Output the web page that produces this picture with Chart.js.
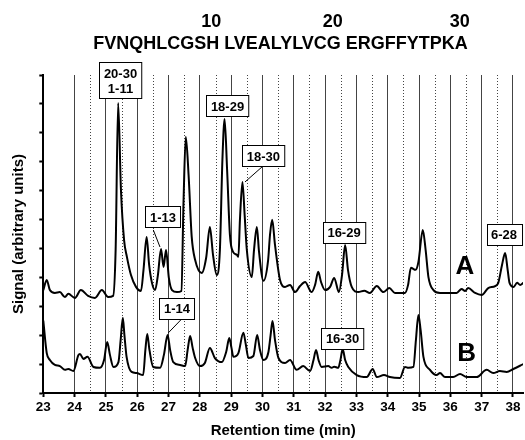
<!DOCTYPE html>
<html>
<head>
<meta charset="utf-8">
<script src="https://cdn.jsdelivr.net/npm/chart.js@4.4.1/dist/chart.umd.min.js"></script>
<style>
html,body{margin:0;padding:0;background:#fff;}
#wrap{width:525px;height:440px;}
</style>
</head>
<body>
<div id="wrap"><canvas id="c" width="525" height="440"></canvas></div>
<script>
// ---- data (retention time in min, signal in arbitrary units) ----
const sequence = "FVNQHLCGSH LVEALYLVCG ERGFFYTPKA";
const residueMarks = [10, 20, 30];
const xTickLabels = [23,24,25,26,27,28,29,30,31,32,33,34,35,36,37,38];

const traceA_t = [23.00,23.11,23.21,23.37,23.53,23.69,23.80,24.01,24.20,24.43,24.65,24.87,25.07,25.23,25.31,25.39,25.48,25.58,25.67,25.80,25.96,26.12,26.20,26.30,26.38,26.47,26.57,26.66,26.76,26.84,26.92,27.01,27.11,27.27,27.41,27.48,27.55,27.64,27.74,27.85,28.06,28.20,28.32,28.42,28.54,28.64,28.72,28.79,28.87,28.96,29.06,29.18,29.23,29.28,29.36,29.43,29.50,29.66,29.73,29.82,29.89,30.03,30.18,30.24,30.31,30.40,30.56,30.72,30.88,31.04,31.20,31.36,31.57,31.68,31.78,31.87,32.00,32.16,32.29,32.44,32.54,32.64,32.73,32.85,33.06,33.25,33.43,33.65,33.86,34.05,34.23,34.55,34.65,34.74,34.89,34.98,35.12,35.21,35.30,35.46,35.67,36.20,36.36,36.47,36.57,36.79,37.00,37.21,37.43,37.53,37.65,37.75,37.83,37.89,38.02,38.13,38.23,38.33];
const traceA_v = [3.56,3.91,3.56,3.46,3.49,3.32,3.43,3.29,3.56,3.36,3.29,3.56,3.32,3.36,4.95,10.03,7.02,5.29,4.71,4.08,3.67,3.53,4.26,5.40,4.43,3.81,3.56,4.08,4.98,4.36,4.95,3.98,3.56,3.49,3.53,6.68,8.86,7.54,5.40,4.60,4.15,4.67,5.74,4.78,4.08,4.95,8.06,9.48,7.72,5.47,4.88,4.78,4.71,5.99,7.30,6.16,4.95,4.01,4.95,5.74,4.88,3.88,4.60,5.47,5.99,5.12,3.91,3.67,3.74,3.49,3.70,3.84,3.49,3.74,4.19,3.84,3.56,3.67,3.98,3.49,4.08,5.12,4.26,3.67,3.49,3.54,3.46,3.70,3.49,3.63,3.46,3.46,3.74,4.33,4.26,4.53,5.64,4.95,4.01,3.56,3.46,3.46,3.60,3.53,3.63,3.46,3.39,3.63,3.70,3.81,4.43,4.84,4.26,3.81,3.67,3.81,3.74,3.81];

const traceB_t = [23.00,23.11,23.21,23.37,23.53,23.69,23.80,23.96,24.12,24.17,24.28,24.41,24.60,24.81,24.94,25.04,25.13,25.24,25.40,25.47,25.54,25.59,25.66,25.82,25.98,26.19,26.26,26.32,26.39,26.51,26.73,26.85,26.97,27.05,27.15,27.37,27.53,27.61,27.69,27.77,27.85,28.00,28.16,28.32,28.48,28.70,28.84,28.94,29.01,29.07,29.23,29.39,29.47,29.55,29.71,29.83,29.92,30.03,30.19,30.26,30.32,30.40,30.51,30.72,30.88,31.09,31.30,31.52,31.63,31.71,31.79,31.89,32.10,32.21,32.29,32.42,32.49,32.56,32.64,32.74,33.01,33.33,33.52,33.65,33.88,34.07,34.39,34.55,34.66,34.82,34.90,34.98,35.05,35.14,35.35,35.56,35.67,35.83,36.09,36.31,36.52,36.84,37.16,37.37,37.58,37.80,38.01,38.33];
const traceB_v = [2.50,1.38,1.14,0.97,0.93,0.80,0.83,0.76,1.31,1.35,1.18,1.25,0.90,0.87,1.14,1.76,1.31,0.90,1.07,1.83,2.60,2.01,1.25,0.73,0.69,0.62,1.49,2.04,1.49,0.90,0.87,1.31,2.01,1.49,1.07,0.97,0.93,1.49,1.97,1.56,1.21,0.93,1.04,1.56,1.21,1.07,1.42,1.90,1.56,1.25,1.38,2.08,1.66,1.21,1.28,2.01,1.49,1.14,1.42,2.01,2.49,1.83,1.21,1.04,1.14,0.80,0.93,0.76,1.14,1.49,1.14,0.90,0.93,0.87,0.91,0.87,1.14,1.52,1.14,0.90,0.62,0.55,0.83,0.55,0.62,0.55,0.52,0.90,0.87,0.90,1.83,2.70,2.18,1.25,0.80,0.62,0.69,0.55,0.55,0.66,0.55,0.55,0.80,0.69,0.76,0.73,0.83,1.00];

const fragmentLabels = [["20-30","1-11"],["1-13"],["18-29"],["18-30"],["16-29"],["6-28"],["1-14"],["16-30"]];
const traceNames = ["A","B"];

// ---- annotation placement (data coordinates) ----
const labelPos = [
  {t:25.466, v:10.81}, {t:26.823, v:6.09}, {t:28.883, v:9.93}, {t:30.027, v:8.20},
  {t:32.604, v:5.55}, {t:37.714, v:5.50}, {t:27.27, v:2.92}, {t:32.556, v:1.90}
];
const leaders = [
  {from:{t:26.513,v:5.64}, to:{t:26.727,v:5.05}},
  {from:{t:29.985,v:7.82}, to:{t:29.442,v:7.30}},
  {from:{t:27.420,v:2.56}, to:{t:26.992,v:2.08}}
];
const traceNamePos = [{t:36.468, v:4.37},{t:36.523, v:1.37}];

const toXY = (ts, vs) => ts.map((t, i) => ({x: t, y: vs[i]}));
const FONT = "'Liberation Sans', Arial, sans-serif";

const halfGrid = {
  id: 'halfGrid',
  beforeDatasetsDraw(chart) {
    const {ctx, chartArea, scales:{x}} = chart;
    ctx.save();
    ctx.strokeStyle = '#444';
    ctx.lineWidth = 1;
    ctx.setLineDash([1, 2]);
    for (let i = 0; i < xTickLabels.length - 1; i++) {
      const v = xTickLabels[i] + 0.5;
      if (v < 24) continue;
      const px = Math.round(x.getPixelForValue(v)) + 0.5;
      ctx.beginPath();
      ctx.moveTo(px, chartArea.top);
      ctx.lineTo(px, chartArea.bottom);
      ctx.stroke();
    }
    ctx.restore();
  }
};

const annot = {
  id: 'annot',
  afterDatasetsDraw(chart) {
    const {ctx, scales:{x, y}} = chart;
    ctx.save();
    // header: residue numbers and sequence
    ctx.fillStyle = '#000';
    ctx.font = "bold 18px " + FONT;
    ctx.textBaseline = 'middle';
    const seqW = ctx.measureText(sequence).width;
    const x0 = 280.5 - seqW / 2;
    ctx.textAlign = 'left';
    ctx.fillText(sequence, x0, 44);
    ctx.textAlign = 'right';
    residueMarks.forEach(n => {
      let count = 0, idx = 0;
      for (; idx < sequence.length; idx++) {
        if (sequence[idx] !== ' ') count++;
        if (count === n) break;
      }
      const w = ctx.measureText(sequence.slice(0, idx + 1)).width;
      ctx.fillText(String(n), x0 + w + 2, 22);
    });

    // leader lines
    ctx.strokeStyle = '#000';
    ctx.lineWidth = 1;
    leaders.forEach(l => {
      ctx.beginPath();
      ctx.moveTo(x.getPixelForValue(l.from.t), y.getPixelForValue(l.from.v));
      ctx.lineTo(x.getPixelForValue(l.to.t), y.getPixelForValue(l.to.v));
      ctx.stroke();
    });

    // label boxes
    ctx.font = "bold 13px " + FONT;
    ctx.textAlign = 'center';
    fragmentLabels.forEach((lines, i) => {
      const cx = x.getPixelForValue(labelPos[i].t);
      const cy = y.getPixelForValue(labelPos[i].v);
      const w = Math.max(...lines.map(s => ctx.measureText(s).width)) + 9;
      const lh = 15;
      const h = lines.length * lh + 6;
      const bx = Math.round(cx - w / 2) + 0.5, by = Math.round(cy - h / 2) + 0.5;
      ctx.fillStyle = '#fff';
      ctx.fillRect(bx, by, w, h);
      ctx.strokeRect(bx, by, w, h);
      ctx.fillStyle = '#000';
      lines.forEach((s, k) => {
        ctx.fillText(s, cx, cy - (lines.length - 1) * lh / 2 + k * lh + 1);
      });
    });

    // trace names
    ctx.font = "bold 26px " + FONT;
    traceNames.forEach((s, i) => {
      ctx.fillText(s, x.getPixelForValue(traceNamePos[i].t), y.getPixelForValue(traceNamePos[i].v));
    });
    ctx.restore();
  }
};

new Chart(document.getElementById('c'), {
  type: 'line',
  data: {
    datasets: [
      {label: traceNames[0], data: toXY(traceA_t, traceA_v)},
      {label: traceNames[1], data: toXY(traceB_t, traceB_v)}
    ]
  },
  options: {
    responsive: false,
    animation: false,
    devicePixelRatio: 1,
    layout: {padding: {top: 75, right: 2, left: 0, bottom: 0}},
    elements: {
      line: {borderColor: '#000', borderWidth: 2, fill: false, cubicInterpolationMode: 'monotone'},
      point: {radius: 0}
    },
    plugins: {legend: {display: false}, tooltip: {enabled: false}},
    scales: {
      x: {
        type: 'linear',
        min: 23, max: 38.32,
        afterFit: (axis) => { axis.height = 47; },
        ticks: {
          stepSize: 1, includeBounds: false, autoSkip: false, maxRotation: 0,
          color: '#000', padding: 2,
          font: {family: FONT, size: 13.5, weight: 'bold'},
          callback: (v) => xTickLabels.includes(v) ? String(v) : ''
        },
        grid: {color: '#444', lineWidth: 1, drawTicks: true, tickLength: 4, tickColor: '#000', tickWidth: 2},
        border: {display: true, color: '#000', width: 2},
        title: {display: true, text: 'Retention time (min)', color: '#000',
          font: {family: FONT, size: 15, weight: 'bold'}, padding: {top: 0, bottom: 0}}
      },
      y: {
        type: 'linear',
        min: 0, max: 11,
        afterFit: (axis) => { axis.width = 43.3; },
        ticks: {stepSize: 1, display: false},
        grid: {drawOnChartArea: false, drawTicks: true, tickLength: 4, tickColor: '#000', tickWidth: 2},
        border: {display: true, color: '#000', width: 2},
        title: {display: true, text: 'Signal (arbitrary units)', color: '#000',
          font: {family: FONT, size: 15, weight: 'bold'}, padding: {top: 10, bottom: 0}}
      }
    }
  },
  plugins: [halfGrid, annot]
});
</script>
</body>
</html>
